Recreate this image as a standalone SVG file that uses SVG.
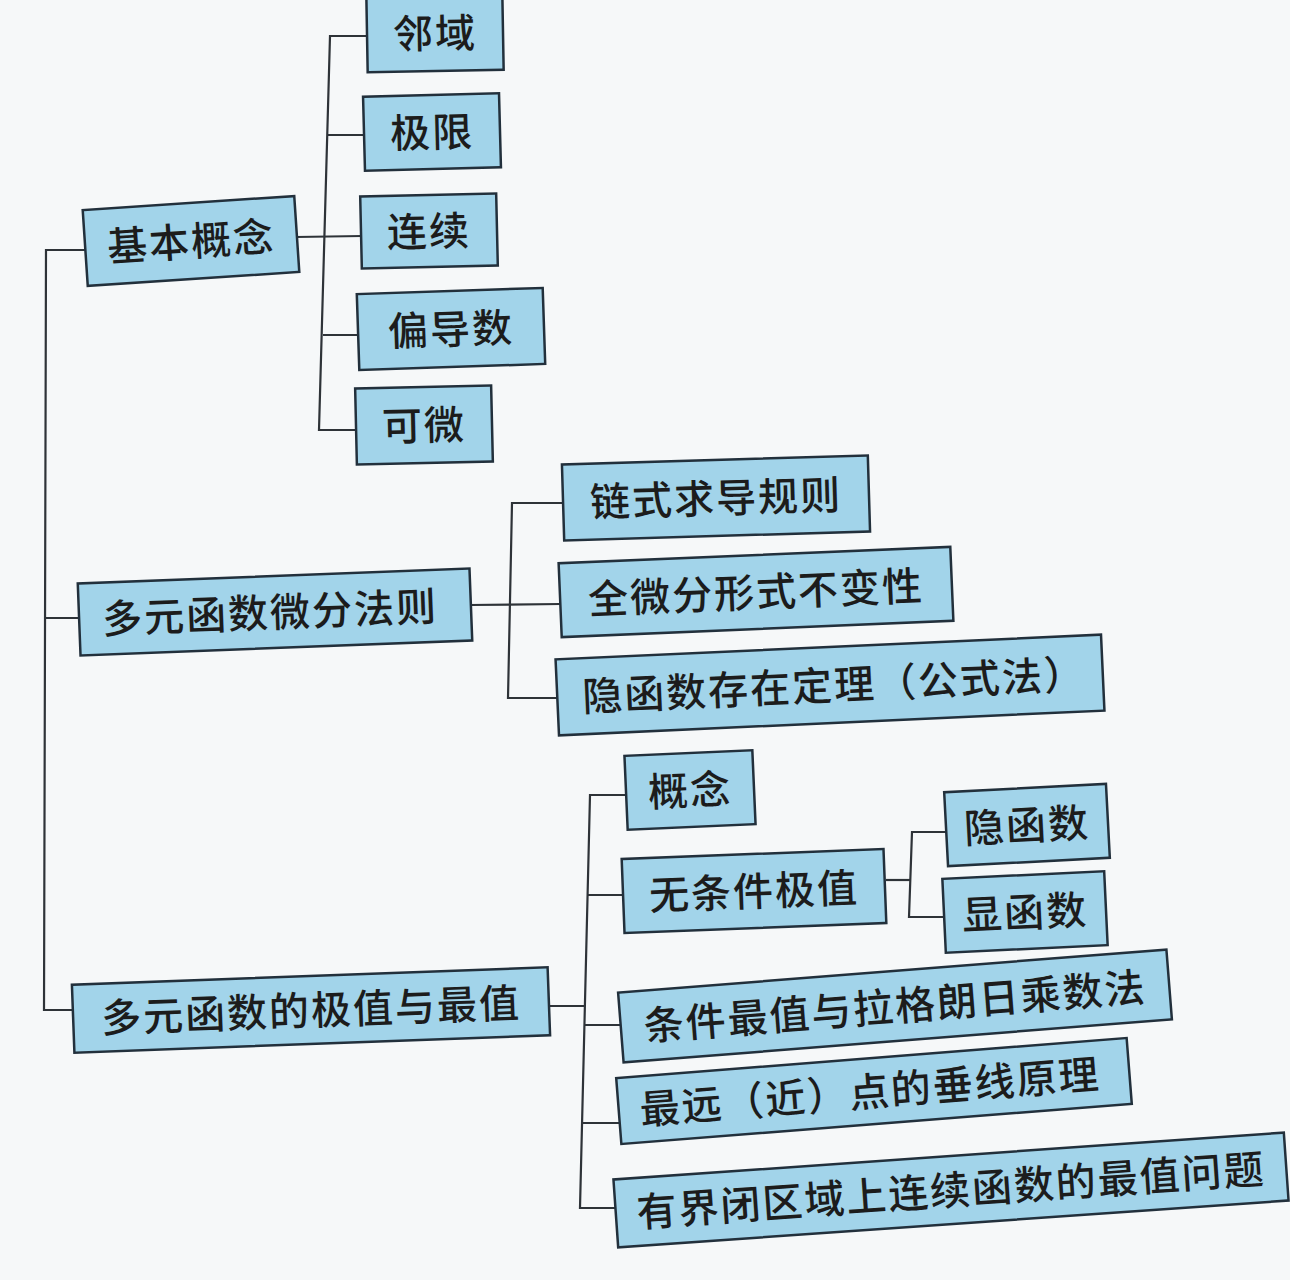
<svg xmlns="http://www.w3.org/2000/svg" width="1290" height="1280" viewBox="0 0 1290 1280">
<style>
.bg{fill:#f6f8f9}
.box{fill:#a2d4ea;stroke:#22303c;stroke-width:2.5}
.t{font-family:"Noto Sans CJK SC","Noto Sans",sans-serif;font-size:40px;font-weight:500;fill:#1c1c1c;text-anchor:middle;letter-spacing:2px}
.ln{stroke:#2e3338;stroke-width:2.2;fill:none}
</style>
<rect class="bg" x="0" y="0" width="1290" height="1280"/>
<g id="connectors">
<polyline class="ln" points="87,250 46,250 44,1010 74,1010"/>
<line class="ln" x1="45" y1="618" x2="80" y2="618"/>
<polyline class="ln" points="368,36 330,36 319,430 357,430"/>
<line class="ln" x1="328" y1="135" x2="365" y2="135"/>
<line class="ln" x1="296" y1="237" x2="362" y2="236"/>
<line class="ln" x1="323" y1="335" x2="359" y2="335"/>
<polyline class="ln" points="564,503 512,503 508,698 558,698"/>
<line class="ln" x1="470" y1="605" x2="561" y2="604"/>
<polyline class="ln" points="627,795 590,795 580,1208 616,1208"/>
<line class="ln" x1="588" y1="895" x2="624" y2="895"/>
<line class="ln" x1="549" y1="1006" x2="585" y2="1006"/>
<line class="ln" x1="584" y1="1025" x2="621" y2="1025"/>
<line class="ln" x1="582" y1="1123" x2="619" y2="1123"/>
<polyline class="ln" points="947,832 912,832 909,917 945,917"/>
<line class="ln" x1="886" y1="880" x2="911" y2="880"/>
</g>
<g id="n-jibengainian" transform="translate(191 241) rotate(-3.8)"><rect class="box" x="-106" y="-38" width="212" height="76"/><text class="t" x="0" y="15">基本概念</text></g>
<g id="n-linyu" transform="translate(435 33) rotate(-1)"><rect class="box" x="-68" y="-40" width="136" height="78"/><text class="t" x="0" y="15">邻域</text></g>
<g id="n-jixian" transform="translate(432 132) rotate(-1.5)"><rect class="box" x="-68" y="-37" width="136" height="74"/><text class="t" x="0" y="15">极限</text></g>
<g id="n-lianxu" transform="translate(429 231) rotate(-1.3)"><rect class="box" x="-68" y="-36" width="136" height="72"/><text class="t" x="0" y="15">连续</text></g>
<g id="n-piandaoshu" transform="translate(451 329) rotate(-1.9)"><rect class="box" x="-93" y="-38" width="186" height="76"/><text class="t" x="0" y="15">偏导数</text></g>
<g id="n-kewei" transform="translate(424 425) rotate(-1.3)"><rect class="box" x="-68" y="-38" width="136" height="76"/><text class="t" x="0" y="15">可微</text></g>
<g id="n-weifenfaze" transform="translate(275 612) rotate(-2.2)"><rect class="box" x="-196" y="-36" width="392" height="72"/><text class="t" x="-5" y="15">多元函数微分法则</text></g>
<g id="n-lianshi" transform="translate(716 498) rotate(-1.7)"><rect class="box" x="-153" y="-38" width="306" height="76"/><text class="t" x="0" y="15">链式求导规则</text></g>
<g id="n-quanweifen" transform="translate(756 592) rotate(-2.4)"><rect class="box" x="-196" y="-37" width="392" height="74"/><text class="t" x="0" y="15">全微分形式不变性</text></g>
<g id="n-yinhanshucunzai" transform="translate(830 685) rotate(-2.6)"><rect class="box" x="-273" y="-38" width="546" height="76"/><text class="t" x="4" y="15">隐函数存在定理（公式法）</text></g>
<g id="n-jizhizuizhi" transform="translate(311 1010) rotate(-2.1)"><rect class="box" x="-238" y="-34" width="476" height="68"/><text class="t" x="0" y="15">多元函数的极值与最值</text></g>
<g id="n-gainian" transform="translate(690 790) rotate(-2.5)"><rect class="box" x="-64" y="-37" width="128" height="74"/><text class="t" x="0" y="15">概念</text></g>
<g id="n-wutiaojian" transform="translate(754 891) rotate(-2.2)"><rect class="box" x="-131" y="-37" width="262" height="74"/><text class="t" x="0" y="15">无条件极值</text></g>
<g id="n-yinhanshu" transform="translate(1027 825) rotate(-3)"><rect class="box" x="-81" y="-37" width="162" height="74"/><text class="t" x="0" y="15">隐函数</text></g>
<g id="n-xianhanshu" transform="translate(1025 912) rotate(-2.7)"><rect class="box" x="-81" y="-37" width="162" height="74"/><text class="t" x="0" y="15">显函数</text></g>
<g id="n-tiaojianzuizhi" transform="translate(895 1006) rotate(-4.5)"><rect class="box" x="-275" y="-35" width="550" height="70"/><text class="t" x="0" y="15">条件最值与拉格朗日乘数法</text></g>
<g id="n-zuiyuan" transform="translate(874 1091) rotate(-4.5)"><rect class="box" x="-256" y="-33" width="512" height="66"/><text class="t" x="-4" y="15">最远（近）点的垂线原理</text></g>
<g id="n-youjiebiqu" transform="translate(951 1190) rotate(-4)"><rect class="box" x="-336" y="-34" width="672" height="68"/><text class="t" x="0" y="15">有界闭区域上连续函数的最值问题</text></g>
</svg>
